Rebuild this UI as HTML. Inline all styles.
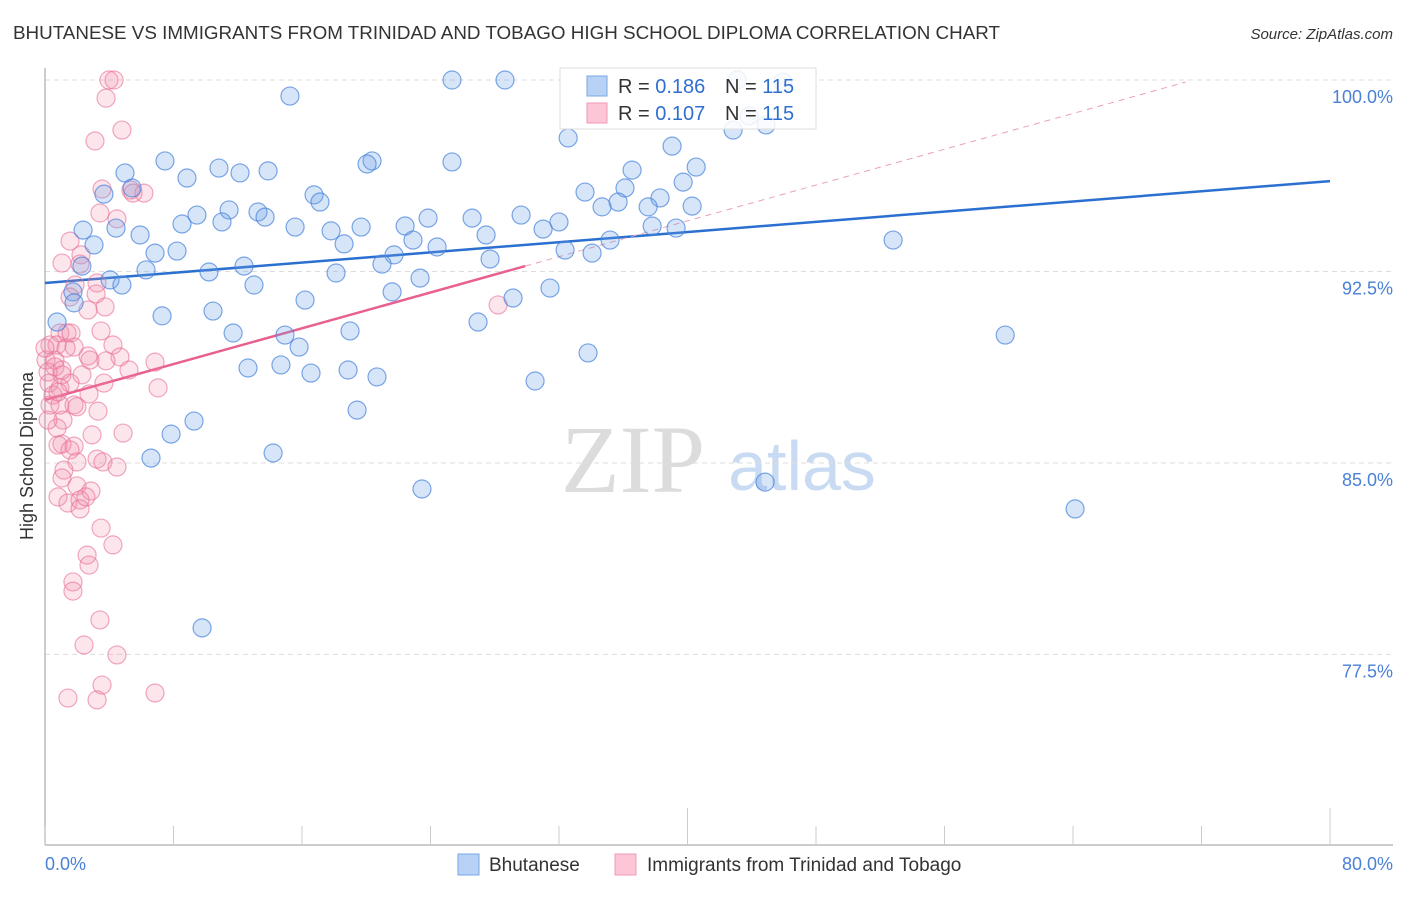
<!DOCTYPE html>
<html><head><meta charset="utf-8"><style>
body{margin:0;background:#fff;width:1406px;height:892px;overflow:hidden;font-family:"Liberation Sans",sans-serif}
</style></head><body>
<svg id="chart" width="1406" height="892" xmlns="http://www.w3.org/2000/svg" font-family="Liberation Sans, sans-serif">
<text x="13" y="39" font-size="18" fill="#333" textLength="987" lengthAdjust="spacingAndGlyphs">BHUTANESE VS IMMIGRANTS FROM TRINIDAD AND TOBAGO HIGH SCHOOL DIPLOMA CORRELATION CHART</text>
<text x="1393" y="39" font-size="15" fill="#333" font-style="italic" text-anchor="end">Source: ZipAtlas.com</text>
<text transform="translate(33,456) rotate(-90)" font-size="18" fill="#333" text-anchor="middle">High School Diploma</text>
<g>
<text x="633" y="492" font-size="96" fill="#dcdcdc" font-family="Liberation Serif, serif" text-anchor="middle">ZIP</text>
<text x="802" y="490" font-size="70" fill="#c9dbf2" text-anchor="middle">atlas</text>
</g>
<g id="grid"></g><g id="axes"></g><g id="trend"></g><g id="pts"></g>
<g>
<rect x="560" y="68" width="256" height="61" fill="#fff" fill-opacity="0.85" stroke="#ddd"/>
<rect x="587" y="76" width="20" height="20" fill="#b8d2f5" stroke="#7aa6e6"/>
<rect x="587" y="103" width="20" height="20" fill="#fcc6d6" stroke="#f09ab5"/>
<text x="618" y="93" font-size="20" fill="#333">R = <tspan fill="#2f6fd0">0.186</tspan></text>
<text x="725" y="93" font-size="20" fill="#333">N = <tspan fill="#2f6fd0">115</tspan></text>
<text x="618" y="120" font-size="20" fill="#333">R = <tspan fill="#2f6fd0">0.107</tspan></text>
<text x="725" y="120" font-size="20" fill="#333">N = <tspan fill="#2f6fd0">115</tspan></text>
</g>
<g>
<rect x="458" y="854" width="21" height="21" fill="#b8d2f5" stroke="#7aa6e6"/>
<text x="489" y="871" font-size="19" fill="#333">Bhutanese</text>
<rect x="615" y="854" width="21" height="21" fill="#fcc6d6" stroke="#f09ab5"/>
<text x="647" y="871" font-size="19" fill="#333">Immigrants from Trinidad and Tobago</text>
</g>
</svg>
<script>
const blueX=[15.25,25.34,28.64,43.09,45.95,43.84,44.89,42.84,32.57,39.04,7.47,20.36,20.05,25.34,36.55,40.54,4.98,10.83,12.14,13.89,8.84,39.73,33.62,36.11,5.42,3.67,16.75,17.12,38.29,34.68,35.68,37.55,40.29,11.46,13.26,9.46,11.02,13.7,26.59,29.64,23.85,32.0,8.53,15.57,17.81,22.42,19.68,31.01,37.8,39.29,4.42,2.37,5.92,27.46,18.62,22.91,24.41,3.05,35.18,8.22,6.85,21.73,32.38,52.8,34.06,2.3,6.29,10.21,12.39,18.12,27.71,20.98,23.35,4.05,4.79,13.01,1.74,21.61,29.14,31.44,16.19,7.29,10.46,26.96,1.81,59.78,11.71,14.94,18.99,0.75,15.82,33.81,12.64,14.69,16.56,18.87,20.67,30.51,19.43,9.28,7.85,6.6,14.2,23.47,44.83,64.13,9.78];
const blueY=[99.37,100,100,100,99.92,98.59,98.24,98.04,97.73,97.41,96.83,96.83,96.71,96.79,96.47,96.59,96.36,96.55,96.36,96.44,96.16,96.0,95.61,95.77,95.77,95.53,95.5,95.22,95.38,95.03,95.22,95.03,95.06,94.91,94.83,94.71,94.44,94.63,94.59,94.71,94.59,94.44,94.36,94.24,94.09,94.28,94.24,94.16,94.28,94.2,94.2,94.12,93.93,93.93,93.58,93.73,93.46,93.54,93.73,93.3,93.22,93.15,93.34,93.73,93.22,92.71,92.56,92.48,92.71,92.44,92.99,92.79,92.24,92.17,91.97,91.97,91.7,91.7,91.46,91.85,91.38,90.76,90.95,90.52,91.27,90.01,90.09,90.01,90.17,90.52,89.54,89.31,88.72,88.84,88.52,88.64,88.37,88.21,87.07,86.64,86.13,85.19,85.39,83.98,84.25,83.2,78.54];
const pinkX=[3.98,4.3,3.8,4.79,3.11,3.55,5.35,6.16,3.42,4.48,1.56,2.24,1.06,2.18,1.87,3.24,3.18,1.56,3.74,2.68,0.93,1.37,3.49,1.62,0.31,0.75,1.81,4.23,2.68,4.67,0.06,0.62,0.62,6.85,5.23,3.8,1.06,1.56,0.25,0.93,3.67,7.04,0.5,2.74,0.31,0.93,1.81,1.99,3.3,1.12,0.75,1.06,0.81,1.81,2.93,4.86,1.56,3.24,3.61,1.99,4.48,1.18,1.06,1.99,2.86,0.81,1.43,2.18,2.18,2.55,3.49,4.23,2.62,2.74,1.74,1.74,3.42,2.43,4.48,3.55,1.43,3.24,6.85,28.21,5.48,0.19,0.81,0.0,0.19,2.3,2.8,1.31,1.06];
const pinkY=[100,100,99.29,98.04,97.61,95.73,95.69,95.57,94.79,94.56,93.69,93.15,92.83,92.79,91.97,92.05,91.62,91.5,91.11,90.99,90.09,90.09,90.17,90.09,89.62,89.62,89.54,89.62,89.19,89.15,89.03,89.03,88.76,88.95,88.64,89.0,88.45,88.13,88.13,87.94,88.13,87.94,87.66,87.7,87.27,87.27,87.27,87.2,87.03,86.68,86.37,85.74,85.7,85.66,86.1,86.17,85.51,85.15,85.04,85.04,84.84,84.72,84.41,84.1,83.9,83.67,83.43,83.55,83.2,83.67,82.45,81.79,81.39,81.0,80.34,79.98,78.85,77.87,77.48,76.3,75.79,75.72,75.99,91.19,95.57,88.56,87.78,89.5,86.68,88.45,89.03,89.5,88.64];
const blueTrend=[92.05,96.04];
const pinkTrend=[87.47,0.1753];
const yTicks=[100,92.5,85,77.5];
const yTickLabels=["100.0%","92.5%","85.0%","77.5%"];
const xTicks=[0,8,16,24,32,40,48,56,64,72,80];

const NS="http://www.w3.org/2000/svg";
const sx=v=>45+v*1285/80;
const sy=v=>80+(100-v)*25.53;
function mk(parent,tag,attrs){const e=document.createElementNS(NS,tag);for(const k in attrs)e.setAttribute(k,attrs[k]);document.getElementById(parent).appendChild(e);return e;}

yTicks.forEach((t,i)=>{
  const g=mk('grid','line',{x1:45,x2:1393,y1:sy(t),y2:sy(t),stroke:'#ddd','stroke-dasharray':'5,4'});
  
  
  const l=mk('grid','text',{x:1393,y:sy(t)+23,'font-size':18,fill:'#4a80d6','text-anchor':'end'});
  l.textContent=yTickLabels[i];
  
  
});
const ax=mk('axes','line',{x1:45,x2:1393,y1:845,y2:845,stroke:'#bbb','stroke-width':1.5});


const ay=mk('axes','line',{x1:45,x2:45,y1:68,y2:845,stroke:'#bbb','stroke-width':1.5});


xTicks.forEach(t=>{
  const big=(t===40||t===80);
  const k=mk('axes','line',{x1:sx(t),x2:sx(t),y1:big?808:826,y2:845,stroke:'#ccc'});
  
  
});
const xl0=mk('axes','text',{x:45,y:870,'font-size':18,fill:'#4a80d6'});xl0.textContent='0.0%';


const xl1=mk('axes','text',{x:1393,y:870,'font-size':18,fill:'#4a80d6','text-anchor':'end'});xl1.textContent='80.0%';



pinkX.forEach((x,i)=>{
  const c=mk('pts','circle',{cx:sx(x),cy:sy(pinkY[i]),r:9,fill:'rgba(242,140,170,0.22)',stroke:'rgba(232,110,150,0.6)','stroke-width':1.2});
  
  
});
blueX.forEach((x,i)=>{
  const c=mk('pts','circle',{cx:sx(x),cy:sy(blueY[i]),r:9,fill:'rgba(110,160,230,0.28)',stroke:'rgba(70,130,220,0.7)','stroke-width':1.2});
  
  
});
const bt=mk('trend','line',{x1:sx(0),y1:sy(blueTrend[0]),x2:sx(80),y2:sy(blueTrend[1]),stroke:'#2b6fd0','stroke-width':2.5});


const pe=29.9;
const pt=mk('trend','line',{x1:sx(0),y1:sy(pinkTrend[0]),x2:sx(pe),y2:sy(pinkTrend[0]+pinkTrend[1]*pe),stroke:'#e8608f','stroke-width':2.5});


const pd=mk('trend','line',{x1:sx(pe),y1:sy(pinkTrend[0]+pinkTrend[1]*pe),x2:sx(71),y2:sy(pinkTrend[0]+pinkTrend[1]*71),stroke:'#eaa0b8','stroke-width':1,'stroke-dasharray':'6,5'});


</script>
</body></html>
